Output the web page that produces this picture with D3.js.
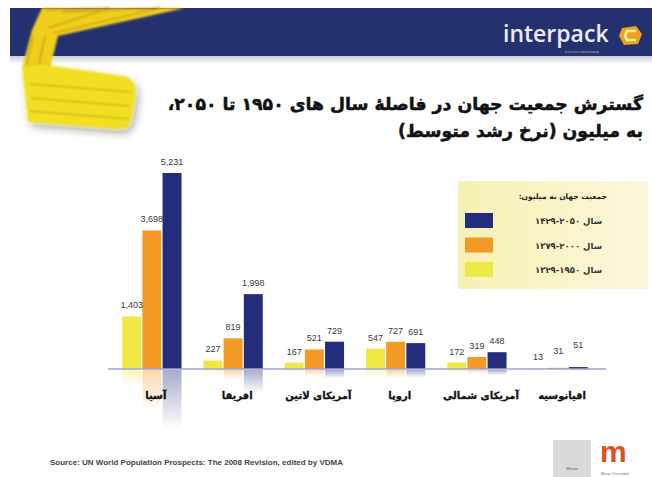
<!DOCTYPE html>
<html>
<head>
<meta charset="utf-8">
<script src="https://cdn.jsdelivr.net/npm/d3@7"></script>
<style>
  body { margin: 0; background: #fff; }
  svg { display: block; }
</style>
</head>
<body>
<div id="chart"></div>
<script>
var categories = ['آسیا', 'افریقا', 'آمریکای لاتین', 'اروپا', 'آمریکای شمالی', 'اقیانوسیه'];
var years = ['1950', '2000', '2050'];
var pop1950 = [1403, 227, 167, 547, 172, 13];
var pop2000 = [3698, 819, 521, 727, 319, 31];
var pop2050 = [5231, 1998, 729, 691, 448, 51];
var legendLabels = ['سال ۲۰۵۰-۱۴۲۹', 'سال ۲۰۰۰-۱۳۷۹', 'سال ۱۹۵۰-۱۳۲۹'];
var titleLines = ['گسترش جمعیت جهان در فاصلهٔ سال های ۱۹۵۰ تا ۲۰۵۰،', 'به میلیون (نرخ رشد متوسط)'];

var W = 652, H = 477;
var colors = {'1950': '#efe845', '2000': '#f29a25', '2050': '#242c7c'};
var fa = "'DejaVu Sans', sans-serif";

var series = {'1950': pop1950, '2000': pop2000, '2050': pop2050};
var rows = categories.map(function(c, i) {
  return {cat: c, vals: years.map(function(y) { return {year: y, v: series[y][i]}; })};
});

var svg = d3.select('#chart').append('svg')
  .attr('width', W).attr('height', H);

var defs = svg.append('defs');
var blur = defs.append('filter').attr('id', 'soft').attr('x', '-20%').attr('y', '-20%').attr('width', '140%').attr('height', '140%');
blur.append('feGaussianBlur').attr('stdDeviation', 1.2);
var sh = defs.append('filter').attr('id', 'shadow').attr('x', '-30%').attr('y', '-30%').attr('width', '160%').attr('height', '160%');
sh.append('feGaussianBlur').attr('in', 'SourceAlpha').attr('stdDeviation', 4).attr('result', 'b');
sh.append('feOffset').attr('dx', 3).attr('dy', 4).attr('result', 'o');
sh.append('feComponentTransfer').append('feFuncA').attr('type', 'linear').attr('slope', 0.35);
var mg = sh.append('feMerge');
mg.append('feMergeNode');
mg.append('feMergeNode').attr('in', 'SourceGraphic');

years.forEach(function(y) {
  var g = defs.append('linearGradient').attr('id', 'refl' + y)
    .attr('x1', 0).attr('y1', 0).attr('x2', 0).attr('y2', 1);
  g.append('stop').attr('offset', 0).attr('stop-color', colors[y]).attr('stop-opacity', 0.4);
  g.append('stop').attr('offset', 1).attr('stop-color', colors[y]).attr('stop-opacity', 0);
});
var lg = defs.append('linearGradient').attr('id', 'legendBg').attr('x1', 0).attr('x2', 1);
lg.append('stop').attr('offset', 0).attr('stop-color', '#f8f1b4');
lg.append('stop').attr('offset', 1).attr('stop-color', '#fbf7dc');
var sg = defs.append('linearGradient').attr('id', 'strip').attr('x1', 0).attr('y1', 0).attr('x2', 0).attr('y2', 1);
sg.append('stop').attr('offset', 0).attr('stop-color', '#c9ccd8');
sg.append('stop').attr('offset', 1).attr('stop-color', '#ffffff');

//////////////////////////////////////////////////////
// HEADER
//////////////////////////////////////////////////////
svg.append('rect').attr('x', 10).attr('y', 8).attr('width', W - 10).attr('height', 48).attr('fill', '#25306e');
svg.append('rect').attr('x', 10).attr('y', 56).attr('width', W - 10).attr('height', 8).attr('fill', 'url(#strip)');

var swoosh = svg.append('g').attr('filter', 'url(#soft)');
swoosh.append('path')
  .attr('d', 'M42,8 L185,8 L58,36 L50,68 L22,68 L32,30 Z')
  .attr('fill', '#f0cf1c');
swoosh.append('path')
  .attr('d', 'M46,10 L110,8 L48,28 M62,12 L160,8 L54,33')
  .attr('fill', 'none').attr('stroke', '#b78a12').attr('stroke-width', 1.2);
swoosh.append('path')
  .attr('d', 'M22,68 L40,64 L124,76 Q138,80 135,98 L131,120 Q129,130 118,129 L28,122 Z')
  .attr('fill', '#f3df22').attr('filter', 'url(#shadow)');
swoosh.append('path')
  .attr('d', 'M30,84 L131,92 M30,98 L130,106 M30,111 L129,119')
  .attr('fill', 'none').attr('stroke', '#b99b10').attr('stroke-width', 1.2);
swoosh.append('path')
  .attr('d', 'M33,36 L27,64 M45,36 L39,64')
  .attr('fill', 'none').attr('stroke', '#c48a10').attr('stroke-width', 1.2);

svg.append('text')
  .attr('x', 503).attr('y', 42)
  .attr('font-family', "'Open Sans', sans-serif").attr('font-size', 23).attr('font-weight', 600)
  .attr('fill', '#e9ecf6')
  .text('interpack');
svg.append('path')
  .attr('d', 'M622,28 L636,26 L642,34 L638,44 L624,45 L619,36 Z')
  .attr('fill', '#f0a020');
svg.append('path')
  .attr('d', 'M636,31 L627,31 L625,36 L627,40 L636,40')
  .attr('fill', 'none').attr('stroke', '#fff3a0').attr('stroke-width', 2.5);
svg.append('text')
  .attr('x', 565).attr('y', 53)
  .attr('font-family', "'Liberation Sans', sans-serif").attr('font-size', 3)
  .attr('fill', '#aab0cc')
  .text('processes and packaging');

//////////////////////////////////////////////////////
// TITLE
//////////////////////////////////////////////////////
svg.selectAll('.title')
  .data(titleLines)
  .enter().append('text')
  .attr('class', 'title')
  .attr('x', 643)
  .attr('y', function(d, i) { return 110 + i * 27; })
  .attr('direction', 'rtl')
  .attr('text-anchor', 'start')
  .attr('font-family', fa).attr('font-weight', 'bold').attr('font-size', 17.3)
  .attr('stroke', '#111').attr('stroke-width', 0.5)
  .attr('fill', '#111')
  .text(function(d) { return d; });

//////////////////////////////////////////////////////
// CHART
//////////////////////////////////////////////////////
var baseY = 369;
var y = d3.scaleLinear().domain([0, 5231]).range([baseY, 173]);
var x0 = d3.scaleBand().domain(categories).range([110, 600]).paddingInner(0.27).paddingOuter(0.15);
var x1 = d3.scaleBand().domain(years).range([0, x0.bandwidth()]).paddingInner(0.06);

var groups = svg.append('g').selectAll('.grp')
  .data(rows)
  .enter().append('g')
  .attr('class', 'grp')
  .attr('transform', function(d) { return 'translate(' + x0(d.cat) + ',0)'; });

// reflections
groups.selectAll('.refl')
  .data(function(d) { return d.vals; })
  .enter().append('rect')
  .attr('class', 'refl')
  .attr('x', function(d) { return x1(d.year); })
  .attr('y', baseY + 1)
  .attr('width', x1.bandwidth())
  .attr('height', function(d) { return (baseY - y(d.v)) * 0.3; })
  .attr('fill', function(d) { return 'url(#refl' + d.year + ')'; });

groups.selectAll('.bar')
  .data(function(d) { return d.vals; })
  .enter().append('rect')
  .attr('class', 'bar')
  .attr('x', function(d) { return x1(d.year); })
  .attr('y', function(d) { return y(d.v); })
  .attr('width', x1.bandwidth())
  .attr('height', function(d) { return baseY - y(d.v); })
  .attr('fill', function(d) { return colors[d.year]; });

groups.selectAll('.val')
  .data(function(d) { return d.vals; })
  .enter().append('text')
  .attr('class', 'val')
  .attr('x', function(d) { return x1(d.year) + x1.bandwidth() / 2; })
  .attr('y', function(d, i) { return Math.min(y(d.v) - 8, 360 - i * 6); })
  .attr('text-anchor', 'middle')
  .attr('font-family', "'Liberation Sans', sans-serif").attr('font-size', 9)
  .attr('fill', '#3a3a3a')
  .text(function(d) { return d3.format(',')(d.v); });

svg.append('line')
  .attr('x1', 108).attr('x2', 606)
  .attr('y1', baseY).attr('y2', baseY)
  .attr('stroke', '#9ea4cc').attr('stroke-width', 1.5);

groups.append('text')
  .attr('x', x0.bandwidth() / 2 + 4)
  .attr('y', 399)
  .attr('text-anchor', 'middle')
  .attr('direction', 'rtl')
  .attr('font-family', fa).attr('font-weight', 'bold').attr('font-size', 10)
  .attr('stroke', '#111').attr('stroke-width', 0.3)
  .attr('fill', '#111')
  .text(function(d) { return d.cat; });

//////////////////////////////////////////////////////
// LEGEND
//////////////////////////////////////////////////////
var legend = svg.append('g').attr('class', 'legend');
legend.append('rect')
  .attr('x', 458).attr('y', 181).attr('width', 190).attr('height', 108)
  .attr('fill', 'url(#legendBg)');
legend.append('text')
  .attr('x', 607).attr('y', 199)
  .attr('direction', 'rtl').attr('text-anchor', 'start')
  .attr('font-family', fa).attr('font-weight', 'bold').attr('font-size', 7.5)
  .attr('fill', '#222')
  .text('جمعیت جهان به میلیون:');
var legYears = years.slice().reverse();
var li = legend.selectAll('.li')
  .data(legYears)
  .enter().append('g')
  .attr('class', 'li')
  .attr('transform', function(d, i) { return 'translate(0,' + (213 + i * 24.5) + ')'; });
li.append('rect')
  .attr('x', 465).attr('y', 0).attr('width', 28).attr('height', 15)
  .attr('fill', function(d) { return colors[d]; });
li.append('text')
  .attr('x', 602).attr('y', 11)
  .attr('direction', 'rtl').attr('text-anchor', 'start')
  .attr('font-family', fa).attr('font-weight', 'bold').attr('font-size', 8.5)
  .attr('fill', '#333')
  .text(function(d, i) { return legendLabels[i]; });

//////////////////////////////////////////////////////
// FOOTER
//////////////////////////////////////////////////////
svg.append('text')
  .attr('x', 50).attr('y', 465)
  .attr('font-family', "'Liberation Sans', sans-serif").attr('font-weight', 'bold').attr('font-size', 8)
  .attr('textLength', 293).attr('lengthAdjust', 'spacingAndGlyphs')
  .attr('fill', '#444')
  .text('Source: UN World Population Prospects: The 2008 Revision, edited by VDMA');

svg.append('rect').attr('x', 553).attr('y', 440).attr('width', 38).attr('height', 37).attr('fill', '#d9d9dc');
svg.append('text').attr('x', 572).attr('y', 470).attr('text-anchor', 'middle')
  .attr('font-family', "'Liberation Sans', sans-serif").attr('font-size', 4).attr('fill', '#555').text('Messe');
svg.append('text').attr('x', 600).attr('y', 462)
  .attr('font-family', "'Liberation Sans', sans-serif").attr('font-weight', 'bold').attr('font-size', 30)
  .attr('fill', '#e0501c').text('m');
svg.append('text').attr('x', 601).attr('y', 475)
  .attr('font-family', "'Liberation Sans', sans-serif").attr('font-size', 3.5).attr('fill', '#777').text('Messe Düsseldorf');
</script>
</body>
</html>
